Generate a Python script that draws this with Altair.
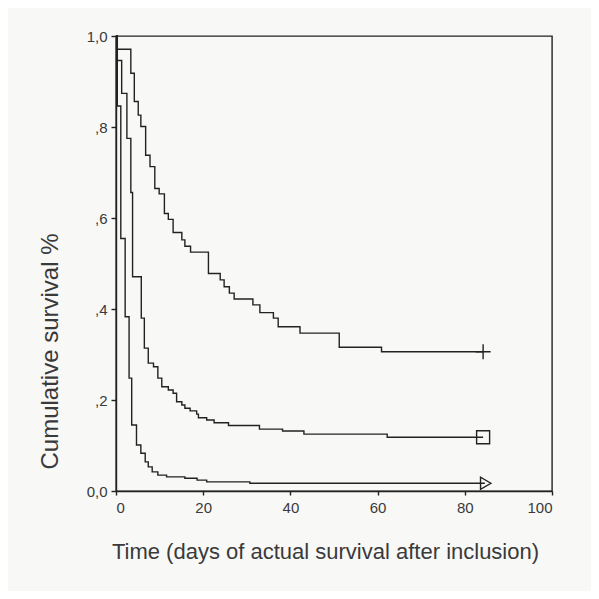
import altair as alt
import pandas as pd

# Kaplan-Meier style survival curves (days, cumulative survival)
c1_t = [0, 0.3, 3.4, 4.2, 5.1, 5.7, 6.8, 7.8, 8.9, 9.9, 11.1, 12.0, 13.1, 15.1, 15.8,
        17.1, 21.2, 23.9, 24.8, 26.0, 27.1, 31.4, 33.0, 36.1, 37.2, 42.2, 51.2, 60.9, 84.2]
c1_v = [1.0, 0.971, 0.918, 0.856, 0.826, 0.801, 0.738, 0.713, 0.665, 0.653, 0.610, 0.597,
        0.568, 0.552, 0.538, 0.525, 0.478, 0.464, 0.449, 0.435, 0.422, 0.409, 0.392, 0.380,
        0.361, 0.347, 0.316, 0.306, 0.306]

c2_t = [0, 0.3, 1.3, 2.5, 3.4, 3.8, 5.8, 6.5, 7.4, 8.6, 9.6, 10.5, 12.0, 13.1, 13.9, 15.1,
        15.8, 17.0, 18.5, 18.9, 20.8, 22.5, 25.8, 32.9, 38.2, 43.1, 62.2, 84.2]
c2_v = [1.0, 0.946, 0.874, 0.775, 0.656, 0.471, 0.380, 0.314, 0.281, 0.273, 0.248, 0.229,
        0.222, 0.215, 0.196, 0.189, 0.182, 0.176, 0.169, 0.161, 0.156, 0.150, 0.144, 0.136,
        0.132, 0.125, 0.118, 0.118]

c3_t = [0, 0.3, 1.1, 2.1, 3.0, 3.6, 4.7, 5.7, 6.7, 7.4, 8.3, 9.6, 11.6, 15.8, 18.6, 20.8,
        30.7, 84.6]
c3_v = [1.0, 0.846, 0.555, 0.383, 0.248, 0.145, 0.101, 0.083, 0.064, 0.053, 0.042, 0.035,
        0.031, 0.028, 0.024, 0.020, 0.017, 0.017]

series_names = ["A", "B", "C"]
end_t = [84.2, 84.2, 84.8]
end_v = [0.306, 0.118, 0.017]

x_ticks = [0, 20, 40, 60, 80, 100]
y_ticks = [0, 0.2, 0.4, 0.6, 0.8, 1.0]

rows = []
for name, ts, vs in zip(series_names, [c1_t, c2_t, c3_t], [c1_v, c2_v, c3_v]):
    for t, v in zip(ts, vs):
        rows.append({"series": name, "t": t, "v": v})
df = pd.DataFrame(rows)
ends = pd.DataFrame({"series": series_names, "t": end_t, "v": end_v})

INK = "#222222"
TXT = "#3a3a3a"
FONT = "Liberation Sans"

x_enc = alt.X("t:Q", scale=alt.Scale(domain=[0, 100], nice=False),
              axis=alt.Axis(values=x_ticks, title="Time (days of actual survival after inclusion)",
                            titleX=209, titleY=60, titleAlign="center", titleBaseline="middle",
                            titleFontSize=22, tickSize=4, labelPadding=5))
y_enc = alt.Y("v:Q", scale=alt.Scale(domain=[0, 1], nice=False),
              axis=alt.Axis(values=y_ticks, title="Cumulative survival %",
                            labelExpr="datum.value == 1 ? '1,0' : (datum.value == 0 ? '0,0' : ',' + round(datum.value * 10))",
                            titleX=-66, titleY=315, titleAngle=270, titleAlign="center",
                            titleBaseline="middle", titleFontSize=24, tickSize=5, labelPadding=4))

lines = alt.Chart(df).mark_line(interpolate="step-after", color=INK, strokeWidth=1.4).encode(
    x=x_enc, y=y_enc, detail="series:N", order="t:Q"
)

plus = alt.Chart(ends[ends.series == "A"]).mark_point(
    shape="M-1,0L1,0M0,-1L0,1", size=225, filled=False, color=INK, strokeWidth=1.4, opacity=1
).encode(x="t:Q", y="v:Q")
square = alt.Chart(ends[ends.series == "B"]).mark_point(
    shape="square", size=169, filled=False, color=INK, strokeWidth=1.4, opacity=1
).encode(x="t:Q", y="v:Q")
tri = alt.Chart(ends[ends.series == "C"]).mark_point(
    shape="triangle-right", size=144, filled=False, color=INK, strokeWidth=1.4, opacity=1
).encode(x="t:Q", y="v:Q")

chart = alt.layer(lines, plus, square, tri).properties(
    width=436, height=455,
    padding={"left": 108, "top": 28, "right": 39, "bottom": 100},
    autosize=alt.AutoSizeParams(type="none"),
    background="#f8f8f7",
).configure_view(
    stroke=INK, strokeWidth=1.4
).configure_axis(
    grid=False, domainColor=INK, domainWidth=1.4, tickColor=INK, tickWidth=1.4,
    labelFont=FONT, labelFontSize=15, labelColor=TXT,
    titleFont=FONT, titleColor=TXT, titleFontWeight="normal",
)

chart.save("out.html", embed_options={"renderer": "svg", "actions": False})
